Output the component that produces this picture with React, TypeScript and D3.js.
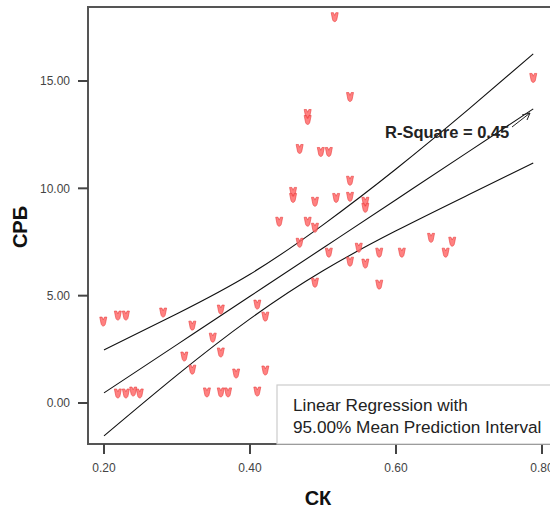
import * as d3 from "d3";

// СК values (x) and СРБ values (y)
const ck = [
  0.516, 0.788, 0.537, 0.479, 0.479, 0.468, 0.497, 0.508, 0.537, 0.459,
  0.459, 0.489, 0.518, 0.537, 0.558, 0.558, 0.44, 0.479, 0.489, 0.468,
  0.508, 0.537, 0.558, 0.549, 0.577, 0.608, 0.648, 0.668, 0.677, 0.577,
  0.489, 0.199, 0.219, 0.23, 0.281, 0.321, 0.349, 0.31, 0.321, 0.36,
  0.41, 0.421, 0.36, 0.381, 0.421, 0.219, 0.23, 0.24, 0.249, 0.341,
  0.36, 0.37, 0.41,
];
const srb = [
  17.95, 15.12, 14.23, 13.44, 13.16, 11.81, 11.67, 11.67, 10.33, 9.81,
  9.53, 9.35, 9.53, 9.58, 9.35, 9.07, 8.42, 8.42, 8.14, 7.44,
  6.98, 6.56, 6.47, 7.21, 6.98, 6.98, 7.67, 6.98, 7.49, 5.49,
  5.58, 3.77, 4.05, 4.05, 4.19, 3.58, 3.02, 2.14, 1.53, 4.33,
  4.56, 4.0, 2.33, 1.35, 1.49, 0.42, 0.42, 0.51, 0.42, 0.47,
  0.47, 0.47, 0.51,
];

// fit line and 95% mean prediction interval
const bandX = [0.2, 0.3, 0.4, 0.5, 0.6, 0.7, 0.788];
const fitY = [0.47, 2.72, 4.97, 7.22, 9.47, 11.72, 13.7];
const upperY = [2.47, 4.16, 6.0, 8.3, 10.9, 13.7, 16.26];
const lowerY = [-1.53, 1.3, 3.92, 6.16, 8.02, 9.71, 11.18];

const xTicks = [0.2, 0.4, 0.6, 0.8];
const yTicks = [0, 5, 10, 15];

const width = 550;
const height = 512;
const left = 88;
const right = 553;
const top = 7;
const bottom = 444;

const font = "'Liberation Sans', Arial, sans-serif";

export default function App() {
  const x = d3.scaleLinear([0.2, 0.8], [104, 542]);
  const y = d3.scaleLinear([0, 15], [403, 81]);
  const fmt = d3.format(".2f");

  const line = d3
    .line<number>()
    .x((_, i) => x(bandX[i]))
    .y((d) => y(d))
    .curve(d3.curveNatural);

  // little cup shaped marker
  const marker =
    "M-3.5,-5 L-1.2,-5 L0,-2.2 L1.2,-5 L3.5,-5 L2.2,1.5 C1.6,4.8 -1.6,4.8 -2.2,1.5 Z";

  return (
    <svg
      width={width}
      height={height}
      style={{ position: "absolute", left: 0, top: 0, background: "#fff" }}
    >
      <rect
        x={left}
        y={top}
        width={right - left}
        height={bottom - top}
        fill="none"
        stroke="#555"
        strokeWidth={2}
      />

      {yTicks.map((t) => (
        <g key={t} transform={`translate(${left},${y(t)})`}>
          <line x1={-10} x2={0} stroke="#444" strokeWidth={2} />
          <text
            x={-18}
            dy="0.35em"
            textAnchor="end"
            fontFamily={font}
            fontSize={12}
            fill="#444"
          >
            {fmt(t)}
          </text>
        </g>
      ))}

      {xTicks.map((t) => (
        <g key={t} transform={`translate(${x(t)},${bottom})`}>
          <line y1={0} y2={10} stroke="#444" strokeWidth={2} />
          <text
            y={28}
            textAnchor="middle"
            fontFamily={font}
            fontSize={12}
            fill="#444"
          >
            {fmt(t)}
          </text>
        </g>
      ))}

      <g fill="none" stroke="#111" strokeWidth={1.1}>
        <path d={line(upperY) ?? ""} />
        <path d={line(fitY) ?? ""} />
        <path d={line(lowerY) ?? ""} />
      </g>

      <g fill="#ff6b6b" stroke="#e83a3a" strokeWidth={0.6} fillOpacity={0.85}>
        {ck.map((v, i) => (
          <path
            key={i}
            d={marker}
            transform={`translate(${x(v)},${y(srb[i])})`}
          />
        ))}
      </g>

      <text
        x={385}
        y={138}
        fontFamily={font}
        fontSize={16.5}
        fontWeight="bold"
        fill="#222"
      >
        R-Square = 0.45
      </text>
      <path
        d="M512,127 L530,113 M530,113 L522,115 M530,113 L527,120"
        fill="none"
        stroke="#222"
        strokeWidth={1}
      />

      <rect
        x={277}
        y={385}
        width={right - 277}
        height={bottom - 385}
        fill="#fff"
        stroke="#ccc"
        strokeWidth={1.2}
      />
      <text x={293} y={411} fontFamily={font} fontSize={17.2} fill="#222">
        Linear Regression with
      </text>
      <text x={293} y={433} fontFamily={font} fontSize={17.2} fill="#222">
        95.00% Mean Prediction Interval
      </text>

      <text
        transform="translate(27,227) rotate(-90)"
        textAnchor="middle"
        fontFamily={font}
        fontSize={20}
        fontWeight="bold"
        fill="#111"
      >
        СРБ
      </text>
      <text
        x={318}
        y={505}
        textAnchor="middle"
        fontFamily={font}
        fontSize={20}
        fontWeight="bold"
        fill="#111"
      >
        СК
      </text>
    </svg>
  );
}
